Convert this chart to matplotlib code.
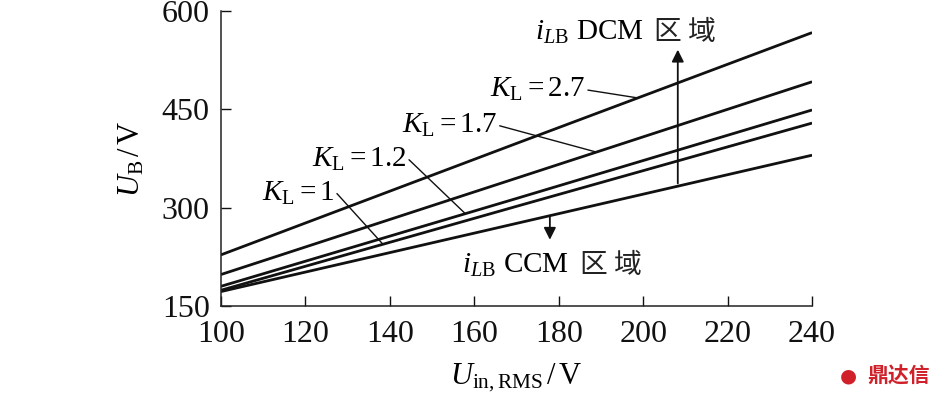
import matplotlib
matplotlib.use("Agg")
import matplotlib.pyplot as plt

plt.rcParams['font.family'] = ['Liberation Serif', 'Noto Sans CJK SC']
plt.rcParams['mathtext.fontset'] = 'custom'
plt.rcParams['mathtext.rm'] = 'Liberation Serif'
plt.rcParams['mathtext.it'] = 'Liberation Serif:italic'
plt.rcParams['mathtext.bf'] = 'Liberation Serif:bold'

# Data
u_in = [100, 170, 240]
ub_k1 = [174, 302, 429]      # K_L = 1
ub_k12 = [180, 314, 449]     # K_L = 1.2
ub_k17 = [198, 345, 492]     # K_L = 1.7
ub_k27 = [228, 398, 567]     # K_L = 2.7
ub_bound = [172, 276, 380]   # CCM boundary
x_ticks = [100, 120, 140, 160, 180, 200, 220, 240]
y_ticks = [150, 300, 450, 600]

fig = plt.figure(figsize=(9.46, 3.98), dpi=100)
ax = fig.add_axes([0.2336, 0.2312, 0.6248, 0.7412])

for ys in (ub_k27, ub_k17, ub_k12, ub_k1, ub_bound):
    ax.plot(u_in, ys, color='#111111', lw=2.0, solid_capstyle='butt')

ax.set_xlim(100, 240)
ax.set_ylim(150, 600)
ax.set_xticks(x_ticks)
ax.set_yticks(y_ticks)
ax.tick_params(direction='in', length=7, width=1.0, labelsize=23, colors='#111111')
ax.tick_params(axis='x', pad=10)
ax.tick_params(axis='y', pad=8)
for s in ('top', 'right'):
    ax.spines[s].set_visible(False)
for s in ('left', 'bottom'):
    ax.spines[s].set_linewidth(1.1)
    ax.spines[s].set_color('#222222')

ax.set_xlabel(r'$U_{\mathrm{in,RMS}}\,/\,\mathrm{V}$', fontsize=22, labelpad=9)
ax.set_ylabel(r'$U_{\mathrm{B}}\,/\,\mathrm{V}$', fontsize=22, labelpad=11)

fs = 21
lw_lead = 1.0
lead = dict(arrowstyle='-', lw=lw_lead, color='#111111', shrinkA=0, shrinkB=0)
ax.annotate(r'$K_{\mathrm{L}}=2.7$', xy=(198.7, 467.4), xytext=(163.7, 480),
            fontsize=fs, va='center', ha='left', arrowprops=dict(lead, relpos=(1.0, 0.5)))
ax.annotate(r'$K_{\mathrm{L}}=1.7$', xy=(189, 384.6), xytext=(142.8, 426),
            fontsize=fs, va='center', ha='left', arrowprops=dict(lead, relpos=(1.0, 0.5)))
ax.annotate(r'$K_{\mathrm{L}}=1.2$', xy=(157.7, 291.9), xytext=(121.5, 373),
            fontsize=fs, va='center', ha='left', arrowprops=dict(lead, relpos=(1.0, 0.6)))
ax.annotate(r'$K_{\mathrm{L}}=1$', xy=(138.3, 244.6), xytext=(109.6, 322),
            fontsize=fs, va='center', ha='left', arrowprops=dict(lead, relpos=(1.0, 0.6)))

# Region arrows and texts
arr = dict(arrowstyle='-|>', lw=1.3, color='#111111', mutation_scale=18, shrinkA=0, shrinkB=0)
ax.annotate('', xy=(208.2, 541), xytext=(208.2, 337), arrowprops=arr)
ax.annotate('', xy=(177.9, 251), xytext=(177.9, 287.6), arrowprops=arr)

t1 = ax.text(174.3, 568, r'$i_{L\mathrm{B}}$ DCM', fontsize=fs, va='center', ha='left')
ax.annotate('区 域', xy=(1, 0.5), xycoords=t1, xytext=(8, 0), textcoords='offset points',
            fontsize=fs - 1, va='center', ha='left', family=['Noto Sans CJK SC'], color='#222222')
t2 = ax.text(157.0, 212, r'$i_{L\mathrm{B}}$ CCM', fontsize=fs, va='center', ha='left')
ax.annotate('区 域', xy=(1, 0.5), xycoords=t2, xytext=(8, 0), textcoords='offset points',
            fontsize=fs - 1, va='center', ha='left', family=['Noto Sans CJK SC'], color='#222222')

# Watermark
fig.text(0.950, 0.055, '鼎达信', color='#d0202a', fontsize=15, fontweight='bold',
         ha='center', va='center', family=['Noto Sans CJK SC'])
fig.text(0.897, 0.055, '●', color='#d0202a', fontsize=14,
         ha='center', va='center', family=['DejaVu Sans'])

fig.savefig('out.png', dpi=100)
